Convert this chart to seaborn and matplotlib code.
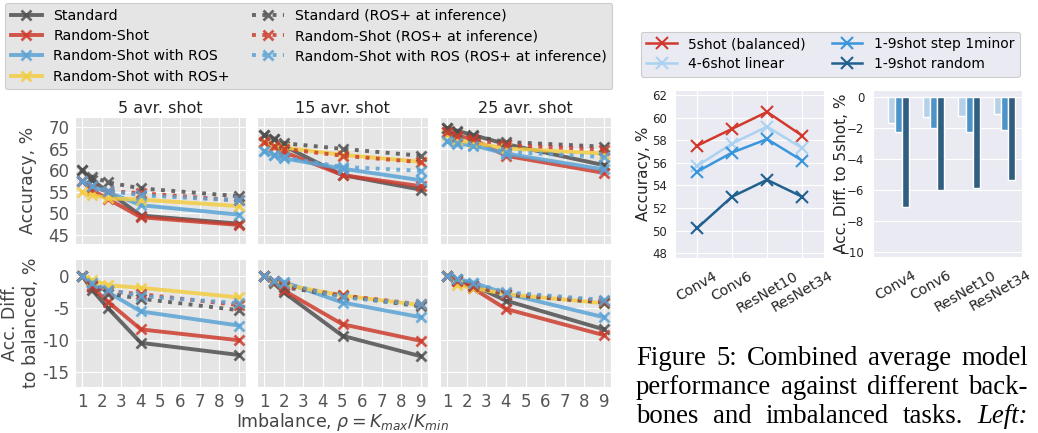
import matplotlib

matplotlib.use("Agg")

import matplotlib.pyplot as plt
from matplotlib.ticker import FuncFormatter
import pandas as pd
import seaborn as sns

W, H = 1038, 433

# ---------------------------------------------------------------- left figure
SERIES = [
    "Standard",
    "Random-Shot",
    "Random-Shot with ROS",
    "Random-Shot with ROS+",
    "Standard (ROS+ at inference)",
    "Random-Shot (ROS+ at inference)",
    "Random-Shot with ROS (ROS+ at inference)",
]
PANEL_TITLES = ["5 avr. shot", "15 avr. shot", "25 avr. shot"]

RHO_5 = [1, 1.5, 2.33, 4, 9]
RHO_15 = [1, 1.5, 2, 5, 9]
RHO_25 = [1, 1.5, 2.33, 4, 9]

# accuracy in %, one row per entry of SERIES
ACC_5 = [
    [60.0, 57.8, 55.0, 49.5, 47.6],
    [57.5, 55.5, 53.3, 49.1, 47.3],
    [57.5, 56.3, 54.9, 51.9, 49.7],
    [55.0, 54.3, 53.5, 53.2, 51.7],
    [60.0, 58.5, 57.2, 55.8, 54.0],
    [57.5, 56.2, 55.2, 54.7, 53.0],
    [57.5, 56.3, 55.2, 54.2, 53.0],
]
ACC_15 = [
    [68.2, 67.4, 65.7, 58.9, 55.5],
    [66.5, 65.5, 64.3, 58.9, 56.3],
    [64.4, 63.6, 62.8, 60.4, 57.7],
    [66.7, 65.7, 65.3, 63.6, 62.0],
    [68.2, 67.3, 66.3, 65.0, 63.4],
    [66.5, 65.6, 65.0, 63.4, 61.9],
    [64.4, 63.6, 63.0, 60.8, 59.9],
]
ACC_25 = [
    [69.8, 69.2, 68.2, 66.1, 61.2],
    [68.8, 68.1, 67.2, 63.4, 59.4],
    [66.8, 66.2, 65.8, 63.9, 60.2],
    [68.2, 67.0, 66.4, 65.1, 63.9],
    [69.8, 69.0, 68.0, 66.6, 65.5],
    [68.8, 68.1, 67.3, 65.9, 64.8],
    [66.8, 66.3, 65.7, 64.3, 63.1],
]

# accuracy difference to balanced task, %
DIFF_5 = [
    [0, -2.2, -5.1, -10.5, -12.4],
    [0, -1.8, -4.1, -8.4, -10.1],
    [0, -1.2, -2.6, -5.6, -7.8],
    [0, -0.7, -1.5, -1.9, -3.4],
    [0, -1.6, -2.8, -3.6, -5.4],
    [0, -1.4, -2.4, -2.9, -4.6],
    [0, -1.2, -2.2, -3.2, -4.3],
]
DIFF_15 = [
    [0, -1.2, -2.6, -9.4, -12.6],
    [0, -1.0, -2.3, -7.6, -10.2],
    [0, -0.8, -1.0, -4.2, -6.5],
    [0, -1.0, -1.4, -3.1, -4.6],
    [0, -1.0, -1.8, -3.2, -4.8],
    [0, -0.9, -1.5, -3.1, -4.5],
    [0, -0.8, -1.2, -3.4, -4.5],
]
DIFF_25 = [
    [0, -0.6, -1.5, -3.9, -8.4],
    [0, -0.9, -2.0, -5.2, -9.3],
    [0, -0.5, -1.1, -2.8, -6.5],
    [0, -1.5, -1.9, -2.9, -4.3],
    [0, -0.7, -1.6, -3.0, -4.2],
    [0, -0.8, -1.6, -2.8, -4.0],
    [0, -0.5, -1.1, -2.6, -3.8],
]

LEFT_COLORS = ["#505050", "#cc3d2e", "#5ba3d5", "#f2cd43", "#505050", "#cc3d2e", "#5ba3d5"]
LEFT_STYLES = ["-", "-", "-", "-", ":", ":", ":"]

# --------------------------------------------------------------- right figure
BACKBONES = ["Conv4", "Conv6", "ResNet10", "ResNet34"]
SETTINGS = ["5shot (balanced)", "4-6shot linear", "1-9shot step 1minor", "1-9shot random"]
ACC_BALANCED = [57.5, 59.0, 60.5, 58.4]
ACC_LINEAR = [55.7, 57.7, 59.2, 57.3]
ACC_STEP = [55.2, 56.9, 58.1, 56.2]
ACC_RANDOM = [50.2, 53.0, 54.5, 53.0]
DIFF_BALANCED = [0.0, 0.0, 0.0, 0.0]
DIFF_LINEAR = [-1.72, -1.3, -1.25, -1.1]
DIFF_STEP = [-2.25, -2.05, -2.3, -2.12]
DIFF_RANDOM = [-7.12, -6.0, -5.9, -5.35]
RIGHT_COLORS = ["#d0392c", "#abd2f0", "#3a96dc", "#22608f"]

CAPTION_LINES = [
    ["Figure", "5:", "Combined", "average", "model"],
    ["performance", "against", "different", "back-"],
    ["bones", "and", "imbalanced", "tasks.", "Left:"],
]


def px_axes(fig, x, y, w, h):
    return fig.add_axes([x / W, 1 - (y + h) / H, w / W, h / H])


def long_frame(rho, rows, value_name):
    recs = []
    for name, vals in zip(SERIES, rows):
        for r, v in zip(rho, vals):
            recs.append({"rho": r, value_name: v, "series": name})
    return pd.DataFrame(recs)


def draw_left(fig):
    left_style = {
        "axes.facecolor": "#e5e5e5",
        "axes.edgecolor": "white",
        "grid.color": "white",
        "grid.linewidth": 1.4,
    }
    rho_sets = [RHO_5, RHO_15, RHO_25]
    rows = [
        ([ACC_5, ACC_15, ACC_25], "acc", (43.0, 72.4), [45, 50, 55, 60, 65, 70], 117, 126.5),
        ([DIFF_5, DIFF_15, DIFF_25], "diff", (-17.4, 2.6), [-15, -10, -5, 0], 259, 128),
    ]
    col_x = [75, 257, 440]
    plain = FuncFormatter(lambda v, _: f"{int(round(v))}")
    handles = []
    for r, (panels, vname, ylim, yticks, top, height) in enumerate(rows):
        for c in range(3):
            with sns.axes_style("darkgrid", left_style):
                ax = px_axes(fig, col_x[c], top, 171, height)
            df = long_frame(rho_sets[c], panels[c], vname)
            for i, name in enumerate(SERIES):
                sns.lineplot(
                    data=df[df["series"] == name], x="rho", y=vname,
                    color=LEFT_COLORS[i], linestyle=LEFT_STYLES[i], lw=2.8,
                    alpha=0.85, marker="x", markersize=7, markeredgewidth=2,
                    markeredgecolor=LEFT_COLORS[i], label=name, legend=False, ax=ax,
                )
            ax.set_xlim(0.64, 9.36)
            ax.set_ylim(*ylim)
            ax.set_xticks(range(1, 10))
            ax.set_yticks(yticks)
            ax.yaxis.set_major_formatter(plain)
            ax.tick_params(length=0, labelsize=12, labelcolor="#555555", pad=4)
            ax.set_xlabel("")
            ax.set_ylabel("")
            if r == 0:
                ax.set_xticklabels([])
                ax.set_title(PANEL_TITLES[c], fontsize=11.5, pad=3, color="#222222")
            if c > 0:
                ax.set_yticklabels([])
            if c == 0:
                text = "Accuracy, %" if r == 0 else "Acc. Diff.\nto balanced, %"
                ax.set_ylabel(text, fontsize=12.5, color="#444444")
                ax.yaxis.set_label_coords(-0.225 if r == 0 else -0.205, 0.5)
            if r == 1 and c == 1:
                ax.set_xlabel(r"Imbalance, $\rho = K_{max}/K_{min}$",
                              fontsize=12.5, color="#444444", labelpad=0)
            if r == 0 and c == 0:
                handles = ax.get_legend_handles_labels()
    leg = fig.legend(
        handles[0], handles[1], ncol=2, loc="upper left",
        bbox_to_anchor=(5 / W, 1 - 3 / H), borderaxespad=0, fontsize=10.2,
        frameon=True, facecolor="#e5e5e5", edgecolor="#cccccc", framealpha=1,
        labelspacing=0.45, columnspacing=1.6, handlelength=2.2, borderpad=0.4,
    )
    leg.get_frame().set_linewidth(0.8)


def draw_right(fig):
    right_style = {"axes.facecolor": "#eaeaf2", "grid.linewidth": 1.3}
    with sns.axes_style("darkgrid", right_style):
        ax = px_axes(fig, 675, 90, 149, 168.3)
        bx = px_axes(fig, 873.3, 90, 149, 167.3)

    acc = [ACC_BALANCED, ACC_LINEAR, ACC_STEP, ACC_RANDOM]
    df = pd.DataFrame(
        [{"backbone": b, "acc": v, "setting": s}
         for s, vals in zip(SETTINGS, acc) for b, v in zip(BACKBONES, vals)]
    )
    for s, color in zip(SETTINGS, RIGHT_COLORS):
        sns.lineplot(
            data=df[df["setting"] == s], x="backbone", y="acc", color=color,
            lw=1.8, marker="x", markersize=9, markeredgewidth=1.5,
            markeredgecolor=color, label=s, legend=False, ax=ax,
        )
    ax.set_xlim(-0.62, 3.62)
    ax.set_ylim(47.56, 62.44)
    ax.set_yticks(range(48, 63, 2))
    ax.set_xlabel("")
    ax.set_ylabel("Accuracy, %", fontsize=11)
    ax.yaxis.set_label_coords(-0.161, 0.5)
    ax.tick_params(axis="y", labelsize=8.5, pad=2)
    ax.tick_params(axis="x", labelsize=10.3, rotation=30, pad=4)

    diffs = [DIFF_BALANCED, DIFF_LINEAR, DIFF_STEP, DIFF_RANDOM]
    dd = pd.DataFrame(
        [{"backbone": b, "diff": v, "setting": s}
         for s, vals in zip(SETTINGS, diffs) for b, v in zip(BACKBONES, vals)]
    )
    sns.barplot(
        data=dd, x="backbone", y="diff", hue="setting", hue_order=SETTINGS,
        palette=RIGHT_COLORS, edgecolor="white", linewidth=1, legend=False, ax=bx,
    )
    bx.set_xlim(-0.63, 3.62)
    bx.set_ylim(-10.36, 0.43)
    bx.set_yticks(range(-10, 1, 2))
    bx.set_xlabel("")
    bx.set_ylabel("Acc. Diff. to 5shot, %", fontsize=11)
    bx.yaxis.set_label_coords(-0.165, 0.5)
    bx.tick_params(axis="y", labelsize=8.5, pad=3)
    bx.tick_params(axis="x", labelsize=10.3, rotation=30, pad=4)

    h, l = ax.get_legend_handles_labels()
    leg = fig.legend(
        h, l, ncol=2, loc="upper left", bbox_to_anchor=(640.7 / W, 1 - 31.7 / H),
        borderaxespad=0, fontsize=10, frameon=True, facecolor="#eaeaf2",
        edgecolor="#cccccc", framealpha=1, labelspacing=0.42, columnspacing=1.9,
        handlelength=2.2,
    )
    leg.get_frame().set_linewidth(0.8)


def justify_line(fig, words, baseline, x0, x1, size, italic_last=False):
    renderer = fig.canvas.get_renderer()
    texts = []
    for i, word in enumerate(words):
        style = "italic" if italic_last and i == len(words) - 1 else "normal"
        texts.append(fig.text(0, 1 - baseline / H, word, fontsize=size,
                              family="Liberation Serif", style=style,
                              va="baseline", ha="left", color="black"))
    widths = [t.get_window_extent(renderer).width for t in texts]
    gap = (x1 - x0 - sum(widths)) / (len(words) - 1)
    x = x0
    for t, wd in zip(texts, widths):
        t.set_x(x / W)
        x += wd + gap


def main():
    fig = plt.figure(figsize=(W / 100, H / 100), dpi=100)
    draw_left(fig)
    draw_right(fig)
    for i, words in enumerate(CAPTION_LINES):
        justify_line(fig, words, 365 + 29 * i, 636, 1028, 19.3, italic_last=(i == 2))
    fig.savefig("out.png", dpi=100)


if __name__ == "__main__":
    main()
